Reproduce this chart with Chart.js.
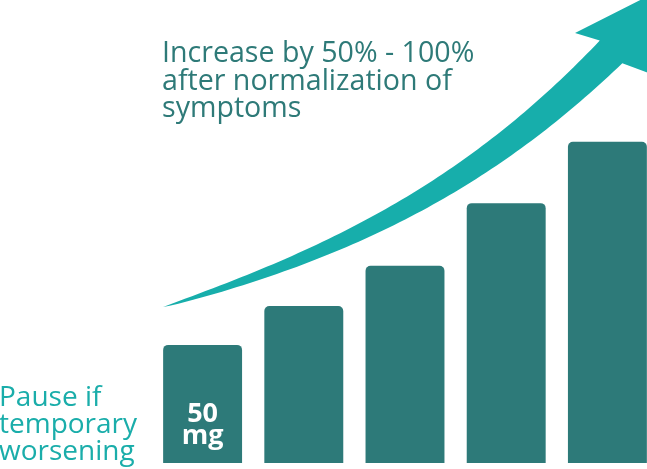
<!DOCTYPE html>
<html>
<head>
<meta charset="utf-8">
<script src="https://cdn.jsdelivr.net/npm/chart.js@4/dist/chart.umd.min.js"></script>
<style>
  html, body { margin: 0; padding: 0; background: #fff; overflow: hidden; }
  #wrap { position: relative; width: 658px; height: 469px; font-family: "Open Sans", sans-serif; }
  #chart { position: absolute; left: 0; top: 0; }
  .title { position: absolute; left: 162px; top: 37px; font-size: 28.6px; line-height: 27.5px; color: #2e7a78; white-space: pre; }
  .note { position: absolute; left: -1px; top: 382px; font-size: 28px; line-height: 27px; color: #1aadaa; white-space: pre; }
  .bar-label { position: absolute; font-size: 27px; font-weight: 700; line-height: 22px; color: #fff; text-align: center; width: 80px; white-space: pre; }
</style>
</head>
<body>
<div id="wrap">
  <canvas id="chart" width="658" height="469"></canvas>
</div>
<script>
// --- DADOS ---
const categories = ['Step 1', 'Step 2', 'Step 3', 'Step 4', 'Step 5'];
const doseValues = [50, 66.5, 83.5, 110, 136];
const barLabels = ['50\nmg', '', '', '', ''];
const yMax = 196;

// seta de tendência: curva de Bézier (em unidades dos eixos: índice da categoria, valor)
const trendX = [-0.39, 1.585, 2.85, 4.036];
const trendY = [66.0, 91.4, 123.2, 174.0];
const headX = [3.68, 4.44, 4.60];
const headY = [182.0, 198.5, 162.1];

const titleLines = ['Increase by 50% - 100%', 'after normalization of', 'symptoms'];
const noteLines = ['Pause if', 'temporary', 'worsening'];

const wrap = document.getElementById('wrap');

// Seta curva, afinando até a cauda
const trendArrow = {
    id: 'trendArrow',
    beforeDatasetsDraw(chart) {
        const { ctx, scales: { x, y } } = chart;
        const [p0, p1, p2, p3] = trendX.map((v, i) => ({ x: x.getPixelForValue(v), y: y.getPixelForValue(trendY[i]) }));

        const path = [];
        const steps = 80;
        for (let s = 0; s <= steps; s++) {
            const t = s / steps, u = 1 - t;
            const a = u * u * u, b = 3 * u * u * t, c = 3 * u * t * t, d = t * t * t;
            path.push({ x: a * p0.x + b * p1.x + c * p2.x + d * p3.x, y: a * p0.y + b * p1.y + c * p2.y + d * p3.y });
        }

        const len = [0];
        for (let i = 1; i < path.length; i++) {
            len.push(len[i - 1] + Math.hypot(path[i].x - path[i - 1].x, path[i].y - path[i - 1].y));
        }
        const total = len[len.length - 1];

        const upper = [], lower = [];
        path.forEach((p, i) => {
            const a = path[Math.max(i - 1, 0)], b = path[Math.min(i + 1, path.length - 1)];
            const dx = b.x - a.x, dy = b.y - a.y, dd = Math.hypot(dx, dy) || 1;
            const nx = -dy / dd, ny = dx / dd;
            const w = 16 * Math.pow(len[i] / total, 0.75);
            lower.push({ x: p.x + nx * w, y: p.y + ny * w });
            upper.push({ x: p.x - nx * w, y: p.y - ny * w });
        });
        const head = headX.map((v, i) => ({ x: x.getPixelForValue(v), y: y.getPixelForValue(headY[i]) }));

        ctx.save();
        ctx.fillStyle = '#17aeab';
        ctx.beginPath();
        upper.forEach((p, i) => i ? ctx.lineTo(p.x, p.y) : ctx.moveTo(p.x, p.y));
        head.forEach(p => ctx.lineTo(p.x, p.y));
        lower.reverse().forEach(p => ctx.lineTo(p.x, p.y));
        ctx.closePath();
        ctx.fill();
        ctx.restore();
    }
};

const chart = new Chart(document.getElementById('chart'), {
    type: 'bar',
    data: {
        labels: categories,
        datasets: [{
            data: doseValues,
            backgroundColor: '#2d7a79',
            borderWidth: 0,
            borderRadius: 5,
            barPercentage: 0.78,
            categoryPercentage: 1
        }]
    },
    options: {
        responsive: false,
        animation: false,
        events: [],
        layout: { padding: { left: 152, right: 0, top: 0, bottom: 6 } },
        scales: {
            x: { display: false },
            y: { display: false, min: 0, max: yMax }
        },
        plugins: {
            legend: { display: false },
            tooltip: { enabled: false }
        }
    },
    plugins: [trendArrow]
});

// Textos
const title = document.createElement('div');
title.className = 'title';
title.textContent = titleLines.join('\n');
wrap.appendChild(title);

const note = document.createElement('div');
note.className = 'note';
note.textContent = noteLines.join('\n');
wrap.appendChild(note);

const meta = chart.getDatasetMeta(0);
barLabels.forEach((txt, i) => {
    if (!txt) return;
    const el = document.createElement('div');
    el.className = 'bar-label';
    el.textContent = txt;
    el.style.left = (meta.data[i].x - 40) + 'px';
    el.style.top = '401px';
    wrap.appendChild(el);
});
</script>
</body>
</html>
